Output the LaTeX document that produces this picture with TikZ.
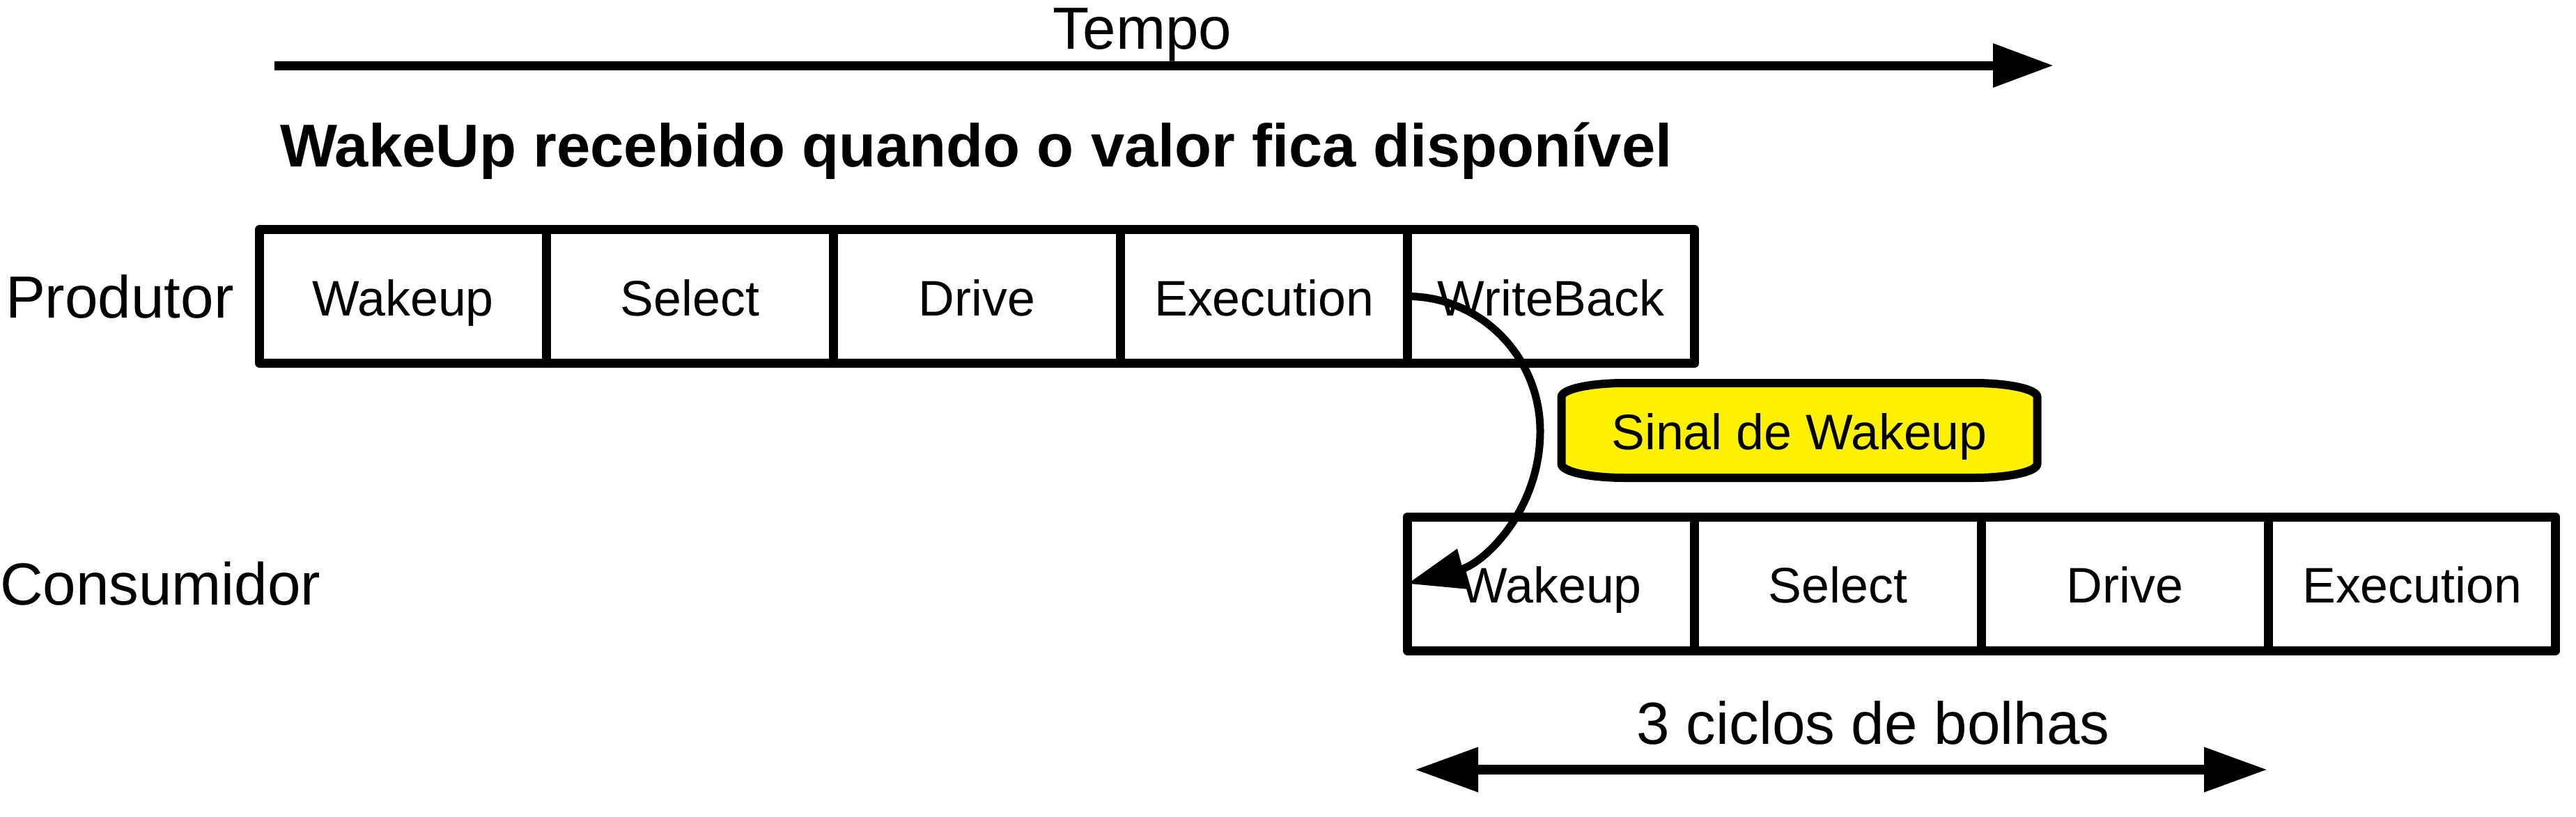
\documentclass[tikz,border=0pt]{standalone}
\usepackage{fontspec}
\setmainfont{Liberation Sans}
\usetikzlibrary{arrows.meta, positioning, backgrounds}

\begin{document}
\begin{tikzpicture}[
    cell/.style={draw, line width=0.13cm, line join=round, minimum width=4.12cm, minimum height=1.92cm, inner sep=0pt, outer sep=0pt, font=\fontsize{20.4}{24}\selectfont, text height=15.9pt, text depth=0pt},
    big/.style={font=\fontsize{24.3}{29}\selectfont, inner sep=0pt, outer sep=0pt}
]

\useasboundingbox (0,0) rectangle (36.98,-11.72);

% Time axis
\coordinate (t0) at (3.94,-0.94);
\coordinate (t1) at (29.48,-0.94);
\draw[line width=0.13cm, -{Triangle[length=0.87cm, width=0.6cm]}] (t0) -- (t1);
\node[big, anchor=base] (tempo) at (16.40,-0.70) {Tempo};

% Title
\node[big, anchor=base west, font=\fontsize{24.7}{29}\selectfont\bfseries] (titulo) at (4.02,-2.39) {WakeUp recebido quando o valor fica disponível};

% Producer stages
\node[big, anchor=west] (produtor) at (0.08,-4.255) {Produtor};
\foreach \txt [count=\i] in {Wakeup, Select, Drive, Execution, WriteBack}
{
    \node[cell] (p\i) at ({3.726+4.12*(\i-0.5)},-4.255) {\txt};
}

% Consumer stages
\node[big, anchor=west] (consumidor) at (0,-8.38) {Consumidor};
\foreach \txt [count=\i] in {Wakeup, Select, Drive, Execution}
{
    \node[cell] (c\i) at ({20.206+4.12*(\i-0.5)},-8.38) {\txt};
}

% Wakeup signal box
\node[font=\fontsize{20.4}{24}\selectfont, text height=15.9pt, text depth=0pt, minimum width=6.83cm, minimum height=1.36cm, inner sep=0pt, outer sep=0pt] (sinal) at (25.83,-6.18) {Sinal de Wakeup};
\begin{scope}[on background layer]
\draw[line width=0.12cm, fill=yellow] ([yshift=-0.2cm]sinal.north west) arc[start angle=180, end angle=90, x radius=0.9cm, y radius=0.2cm] -- ([xshift=-0.9cm]sinal.north east) arc[start angle=90, end angle=0, x radius=0.9cm, y radius=0.2cm] -- ([yshift=0.2cm]sinal.south east) arc[start angle=0, end angle=-90, x radius=0.9cm, y radius=0.2cm] -- ([xshift=0.9cm]sinal.south west) arc[start angle=270, end angle=180, x radius=0.9cm, y radius=0.2cm] -- cycle;
\end{scope}

% Wakeup signal path
\coordinate (volta) at (22.11,-6.19);
\draw[line width=0.11cm, -{Triangle[length=0.82cm, width=0.57cm]}] (p5.west) to[out=0, in=90] (volta) to[out=-90, in=15] (c1.west);

% Bubble cycles
\coordinate (b0) at (20.31,-11.05);
\coordinate (b1) at (32.55,-11.05);
\draw[line width=0.14cm, {Triangle[length=0.91cm, width=0.61cm]}-{Triangle[length=0.91cm, width=0.61cm]}] (b0) -- (b1);
\node[big, anchor=base] (bolhas) at (26.89,-10.68) {3 ciclos de bolhas};

\end{tikzpicture}
\end{document}
